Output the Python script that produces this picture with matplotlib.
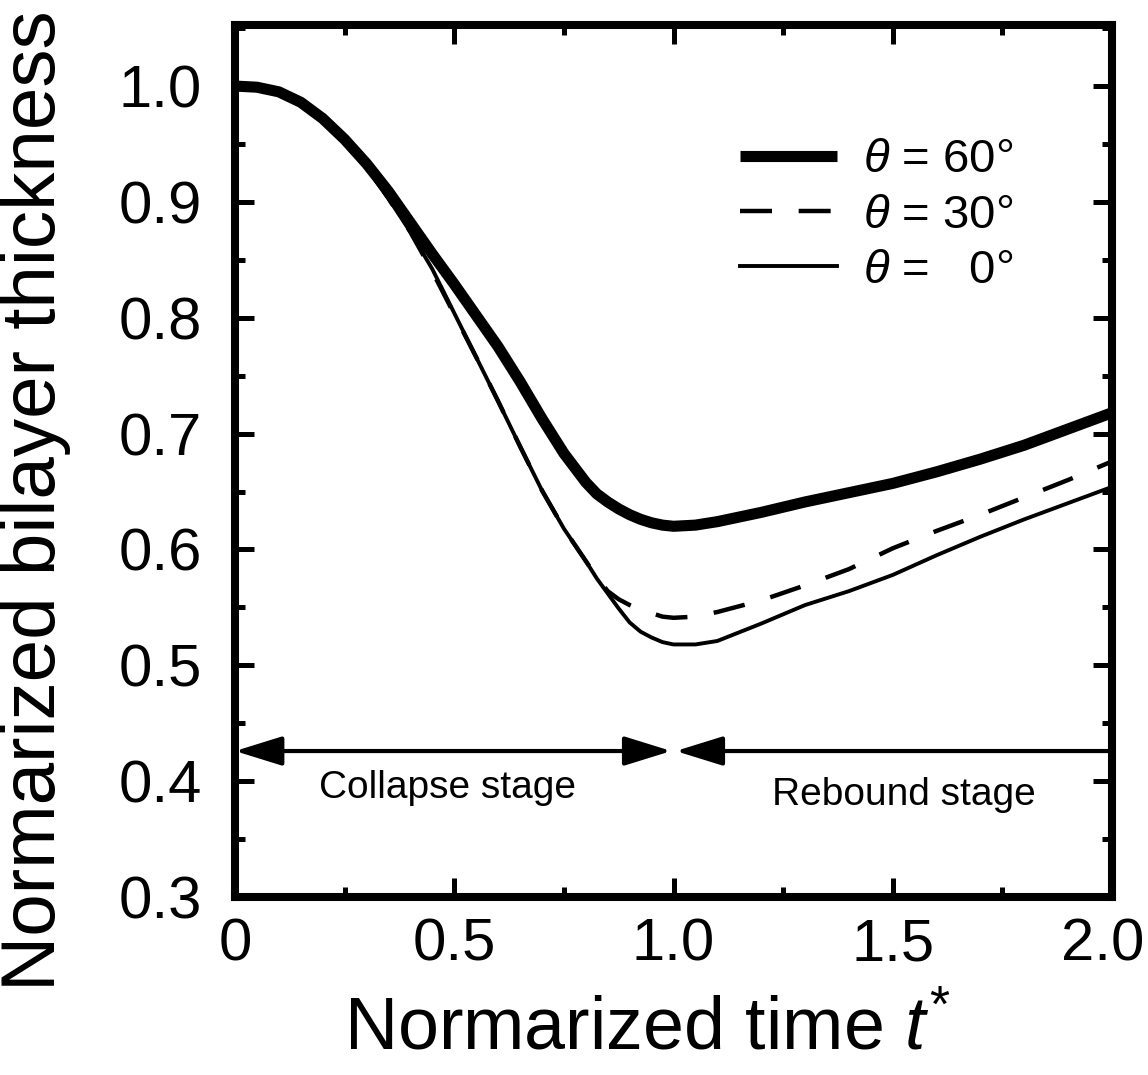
import matplotlib
matplotlib.use('Agg')
import matplotlib.pyplot as plt
import matplotlib.transforms as mtransforms
from matplotlib.ticker import MultipleLocator, FixedLocator

# ---------------- data ----------------
t = [0, 0.05, 0.1, 0.15, 0.2, 0.25, 0.3, 0.35, 0.4, 0.45,
     0.5, 0.55, 0.6, 0.65, 0.7, 0.75, 0.8, 0.825, 0.85, 0.875,
     0.9, 0.925, 0.95, 0.975, 1.0, 1.05, 1.1, 1.2, 1.3, 1.4,
     1.5, 1.6, 1.7, 1.8, 1.9, 2.0]

theta60 = [1.000, 0.999, 0.995, 0.986, 0.972, 0.954, 0.933, 0.909, 0.882, 0.855,
           0.829, 0.802, 0.775, 0.745, 0.713, 0.683, 0.658, 0.648, 0.641, 0.635,
           0.630, 0.626, 0.623, 0.621, 0.620, 0.621, 0.624, 0.632, 0.641, 0.649,
           0.657, 0.667, 0.678, 0.690, 0.704, 0.718]

theta30 = [1.000, 0.999, 0.995, 0.986, 0.971, 0.952, 0.930, 0.903, 0.874, 0.840,
           0.803, 0.766, 0.728, 0.689, 0.651, 0.618, 0.590, 0.576, 0.564, 0.557,
           0.552, 0.548, 0.545, 0.542, 0.541, 0.542, 0.546, 0.556, 0.569, 0.583,
           0.601, 0.616, 0.630, 0.645, 0.660, 0.676]

theta0 = [1.000, 0.999, 0.995, 0.986, 0.971, 0.952, 0.930, 0.903, 0.874, 0.842,
          0.804, 0.766, 0.728, 0.689, 0.651, 0.618, 0.590, 0.575, 0.562, 0.549,
          0.537, 0.529, 0.524, 0.520, 0.518, 0.518, 0.521, 0.536, 0.552, 0.564,
          0.578, 0.595, 0.611, 0.626, 0.640, 0.654]

labels = [r'$\theta$ = 60°', r'$\theta$ = 30°', r'$\theta$ =   0°']

xticks = [0, 0.5, 1.0, 1.5, 2.0]
xticklabels = ['0', '0.5', '1.0', '1.5', '2.0']
yticks = [0.3, 0.4, 0.5, 0.6, 0.7, 0.8, 0.9, 1.0]
yticklabels = ['0.3', '0.4', '0.5', '0.6', '0.7', '0.8', '0.9', '1.0']

arrow_y = 0.426
collapse_span = (0.0, 0.995)
rebound_span = (2.0, 1.005)
stage_texts = [('Collapse stage', 0.485, 0.394), ('Rebound stage', 1.525, 0.388)]

# ---------------- style ----------------
plt.rcParams['font.family'] = ['Liberation Sans', 'DejaVu Sans']
plt.rcParams['mathtext.fontset'] = 'custom'
plt.rcParams['mathtext.rm'] = 'Liberation Sans'
plt.rcParams['mathtext.it'] = 'Liberation Sans:italic'

W, H = 1148, 1075
fig = plt.figure(figsize=(W / 100, H / 100), dpi=100)
ax = fig.add_axes([235 / W, 1 - 897 / H, (1112 - 235) / W, (897 - 25) / H])

l60, = ax.plot(t, theta60, color='black', lw=8, solid_capstyle='butt',
               solid_joinstyle='round', label=labels[0], zorder=3)
l30, = ax.plot(t, theta30, color='black', lw=3.2, dashes=(7.2, 6.0),
               dash_capstyle='butt', label=labels[1], zorder=2)
l0, = ax.plot(t, theta0, color='black', lw=2.8, solid_joinstyle='round',
              label=labels[2], zorder=2)

ax.set_xlim(0, 2.0)
ax.set_ylim(0.3, 1.0527)

ax.xaxis.set_major_locator(FixedLocator(xticks))
ax.set_xticklabels(xticklabels)
ax.xaxis.set_minor_locator(MultipleLocator(0.25))
ax.yaxis.set_major_locator(FixedLocator(yticks))
ax.set_yticklabels(yticklabels)
ax.yaxis.set_minor_locator(MultipleLocator(0.05))

for sp in ax.spines.values():
    sp.set_linewidth(5.8)

ax.tick_params(which='both', direction='in', top=True, right=True)
ax.tick_params(which='major', length=14, width=3.6, labelsize=43)
ax.tick_params(which='minor', length=7, width=3.6)
ax.tick_params(axis='x', which='major', pad=15)
ax.tick_params(axis='y', which='major', pad=24)

# nudge the last x tick label slightly left so it stays inside the figure
last = ax.get_xticklabels()[-1]
last.set_transform(last.get_transform() +
                   mtransforms.ScaledTranslation(-9 / 100, 0, fig.dpi_scale_trans))

ax.set_ylabel('Normarized bilayer thickness', fontsize=55)
ax.yaxis.label.set_va('center')
ax.yaxis.set_label_coords(-0.227, 0.455)
ax.set_xlabel('Normarized time $t^{*}$', fontsize=53)
ax.xaxis.label.set_va('center')
ax.xaxis.set_label_coords(0.47, -0.1525)

leg = ax.legend(handles=[l60, l30, l0], loc='upper left',
                bbox_to_anchor=(0.576, 0.870), frameon=False, fontsize=34,
                handlelength=2.05, handletextpad=0.55, labelspacing=0.24,
                borderpad=0, borderaxespad=0)

ax.annotate('', xy=(collapse_span[0], arrow_y), xytext=(collapse_span[1], arrow_y),
            arrowprops=dict(arrowstyle='<|-|>,head_length=29,head_width=9',
                            mutation_scale=1, lw=3, color='black',
                            shrinkA=0, shrinkB=0))
ax.annotate('', xy=(rebound_span[1], arrow_y), xytext=(rebound_span[0], arrow_y),
            arrowprops=dict(arrowstyle='-|>,head_length=29,head_width=9',
                            mutation_scale=1, lw=3, color='black',
                            shrinkA=0, shrinkB=0))

for txt, x, y in stage_texts:
    ax.text(x, y, txt, ha='center', va='center', fontsize=28)

fig.savefig('out.png', dpi=100)
